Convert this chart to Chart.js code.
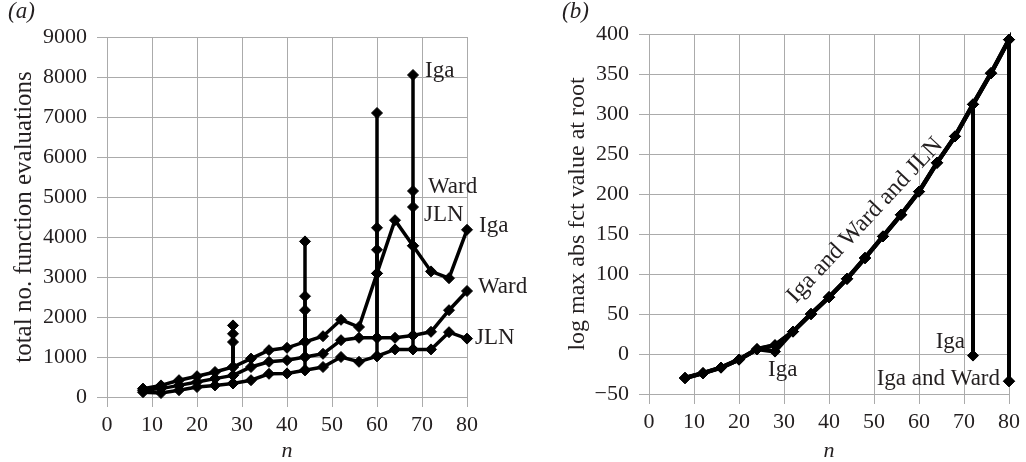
<!DOCTYPE html>
<html>
<head>
<meta charset="utf-8">
<script src="https://cdn.jsdelivr.net/npm/chart.js@4.4.0/dist/chart.umd.min.js"></script>
<style>
  html, body { margin: 0; padding: 0; background: #fff; }
  #wrap { position: relative; width: 1026px; height: 462px; overflow: hidden; }
  canvas { position: absolute; top: 0; }
  #chart-a { left: 0; }
  #chart-b { left: 513px; }
</style>
</head>
<body>
<div id="wrap">
  <canvas id="chart-a" width="560" height="462"></canvas>
  <canvas id="chart-b" width="513" height="462"></canvas>
</div>
<script>
// problem size n (x axis of both panels)
const nValues = [8, 12, 16, 20, 24, 28, 32, 36, 40, 44, 48, 52, 56, 60, 64, 68, 72, 76, 80];

// (a) total number of function evaluations
const igaEvals  = [210, 290, 420, 520, 625, 750, 960, 1170, 1230, 1380, 1520, 1930, 1750, 3090, 4420, 3780, 3140, 2970, 4180];
const wardEvals = [170, 210, 290, 375, 460, 540, 750, 880, 920, 1000, 1080, 1420, 1480, 1480, 1480, 1540, 1630, 2170, 2650];
const jlnEvals  = [120, 100, 170, 250, 290, 340, 420, 580, 590, 670, 750, 1000, 880, 1020, 1190, 1190, 1190, 1620, 1460];
// outlier runs, drawn as vertical spikes at the same n
const evalSpikeN   = [28, 44, 60, 68];
const igaSpikes    = [1790, 3890, 7100, 8050];
const wardSpikes   = [1580, 2520, 4230, 5150];
const jlnSpikes    = [1375, 2170, 3680, 4750];
const evalTicks = { min: 0, max: 9000, step: 1000 };

// (b) log max abs function value at root
const jlnRoot  = [-30, -24, -17, -7, 6, 11, 28, 50, 71, 94, 120, 147, 174, 203, 239, 272, 312, 351, 393];
const wardRoot = [-30, -24, -17, -7, 6, 11, 28, 50, 71, 94, 120, 147, 174, 203, 239, 272, 312, 351, 393];
const igaRoot  = [-30, -24, -17, -7, 6, 3, 28, 50, 71, 94, 120, 147, 174, 203, 239, 272, 312, 351, 393];
const igaRootSpikeN  = [72, 80];
const igaRootSpikes  = [-2, -34];
const wardRootSpikeN = [80];
const wardRootSpikes = [-34];
const rootTicks = { min: -50, max: 400, step: 50 };

const nTicks = { min: 0, max: 80, step: 10 };

const ink = '#000000';
const textColor = '#231f20';
const gridColor = '#ababab';
const serif = '"Liberation Serif", "Times New Roman", serif';

function withSpikes(values, spikeN, spikeVals) {
  const pts = [];
  nValues.forEach((n, i) => {
    pts.push({ x: n, y: values[i] });
    const k = spikeN.indexOf(n);
    if (k >= 0) {
      pts.push({ x: n, y: spikeVals[k] });
      if (i < nValues.length - 1) pts.push({ x: n, y: values[i] });
    }
  });
  return pts;
}

function fmt(v) {
  return v < 0 ? '\u2212' + Math.abs(v) : String(v);
}

// text labels anchored to data values, plus the panel tag
function labelPlugin(tag, items) {
  return {
    id: 'labels-' + tag,
    afterDatasetsDraw(chart) {
      const { ctx, scales } = chart;
      ctx.save();
      ctx.fillStyle = textColor;
      ctx.textBaseline = 'middle';
      ctx.font = 'italic 23px ' + serif;
      ctx.textAlign = 'left';
      ctx.fillText('(' + tag + ')', tag === 'a' ? 8 : 49, 12);
      items.forEach(it => {
        const px = scales.x.getPixelForValue(it.n) + it.dx;
        const py = scales.y.getPixelForValue(it.v) + it.dy;
        ctx.font = (it.size || 23) + 'px ' + serif;
        ctx.textAlign = it.align || 'left';
        ctx.save();
        ctx.translate(px, py);
        if (it.rot) ctx.rotate(it.rot * Math.PI / 180);
        ctx.fillText(it.text, 0, 0);
        ctx.restore();
      });
      ctx.restore();
    }
  };
}

function series(label, data, width) {
  return {
    label: label,
    data: data,
    showLine: true,
    clip: false,
    borderColor: ink,
    backgroundColor: ink,
    borderWidth: width,
    pointStyle: 'rectRot',
    pointRadius: 5.5,
    pointBorderWidth: 1,
    pointBackgroundColor: ink,
    pointBorderColor: ink
  };
}

function options(cfg) {
  return {
    responsive: false,
    animation: false,
    layout: { padding: cfg.padding },
    plugins: { legend: { display: false }, tooltip: { enabled: false } },
    scales: {
      x: {
        type: 'linear',
        min: nTicks.min,
        max: nTicks.max,
        ticks: { stepSize: nTicks.step, padding: 5, color: textColor, font: { family: serif, size: 22 }, callback: fmt },
        grid: { color: gridColor, tickLength: 10 },
        border: { color: gridColor },
        title: { display: true, text: 'n', color: textColor, font: { family: serif, size: 22, style: 'italic', lineHeight: 1 }, padding: 0 },
        afterFit: s => { s.height = cfg.xHeight; }
      },
      y: {
        min: cfg.y.min,
        max: cfg.y.max,
        ticks: { stepSize: cfg.y.step, padding: 10, color: textColor, font: { family: serif, size: 22 }, callback: fmt },
        grid: { color: gridColor, tickLength: 10 },
        border: { color: gridColor },
        title: { display: true, text: cfg.yTitle, color: textColor, font: { family: serif, size: cfg.yTitleSize, lineHeight: 1.2 }, padding: { top: cfg.yTitlePad } },
        afterFit: s => { s.width = cfg.yWidth; }
      }
    }
  };
}

new Chart(document.getElementById('chart-a'), {
  type: 'scatter',
  data: {
    datasets: [
      series('Iga', withSpikes(igaEvals, evalSpikeN, igaSpikes), 3.5),
      series('Ward', withSpikes(wardEvals, evalSpikeN, wardSpikes), 3.5),
      series('JLN', withSpikes(jlnEvals, evalSpikeN, jlnSpikes), 3.5)
    ]
  },
  options: options({
    padding: { left: 0, right: 93, top: 37, bottom: 0 },
    xHeight: 65,
    yWidth: 107,
    y: evalTicks,
    yTitle: 'total no. function evaluations',
    yTitleSize: 25,
    yTitlePad: 9
  }),
  plugins: [labelPlugin('a', [
    { text: 'Iga', n: 68, v: igaSpikes[3], dx: 12, dy: -4 },
    { text: 'Ward', n: 68, v: wardSpikes[3], dx: 15, dy: -4 },
    { text: 'JLN', n: 68, v: jlnSpikes[3], dx: 11, dy: 8 },
    { text: 'Iga', n: 80, v: igaEvals[18], dx: 12, dy: -4 },
    { text: 'Ward', n: 80, v: wardEvals[18], dx: 11, dy: -4 },
    { text: 'JLN', n: 80, v: jlnEvals[18], dx: 8, dy: -1 }
  ])]
});

new Chart(document.getElementById('chart-b'), {
  type: 'scatter',
  data: {
    datasets: [
      series('Iga', withSpikes(igaRoot, igaRootSpikeN, igaRootSpikes), 4),
      series('Ward', withSpikes(wardRoot, wardRootSpikeN, wardRootSpikes), 4),
      series('JLN', withSpikes(jlnRoot, [], []), 4.5)
    ]
  },
  options: options({
    padding: { left: 0, right: 17, top: 34, bottom: 0 },
    xHeight: 68,
    yWidth: 136,
    y: rootTicks,
    yTitle: 'log max abs fct value at root',
    yTitleSize: 24,
    yTitlePad: 50
  }),
  plugins: [labelPlugin('b', [
    { text: 'Iga', n: 28, v: igaRoot[5], dx: -7, dy: 18 },
    { text: 'Iga', n: 72, v: igaRootSpikes[0], dx: -8, dy: -14, align: 'right' },
    { text: 'Iga and Ward', n: 80, v: igaRootSpikes[1], dx: -9, dy: -2, align: 'right' },
    { text: 'Iga and Ward and JLN', n: 52, v: jlnRoot[11], dx: -18, dy: -16, align: 'center', rot: -47, size: 24 }
  ])]
});
</script>
</body>
</html>
